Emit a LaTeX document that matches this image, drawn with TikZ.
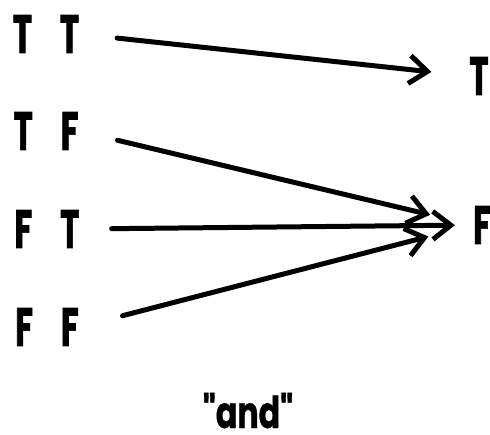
\documentclass[tikz,border=0pt]{standalone}
\usepackage{fontspec}
\setmainfont{Poppins}[FakeStretch=0.6,FakeBold=1.2]
\newfontfamily\labelfont{Poppins}[FakeStretch=0.72,FakeBold=0.8]
\usepackage{tikz}
\usetikzlibrary{arrows.meta,positioning}
\tikzset{
  truth/.style={inner sep=0pt,font=\bfseries\fontsize{54}{54}\selectfont},
  link/.style={-{Straight Barb[length=18pt,width=28pt,line width=5pt]},line width=5pt,line cap=round,draw=black},
  caption/.style={inner sep=0pt,text depth=0pt,font=\labelfont\bfseries\fontsize{44}{44}\selectfont}
}

\begin{document}
\begin{tikzpicture}[x=1pt,y=-1pt]
  \useasboundingbox (0,0) rectangle (490,434);

  \node[truth] (tt) at (46,34) {T\hspace{28pt}T};
  \node[truth] (tf) at (46,131) {T\hspace{28pt}F};
  \node[truth] (ft) at (47,229) {F\hspace{28pt}T};
  \node[truth] (ff) at (47,327) {F\hspace{28pt}F};

  \node[truth] (outT) at (479,76) {T};
  \node[truth] (outF) at (482,225) {F};

  \draw[link,shorten <=38pt,shorten >=38pt] (tt.east) -- (outT.west);
  \draw[link,shorten <=40pt,shorten >=44pt] (tf.east) -- (outF.west);
  \draw[link,shorten <=32pt,shorten >=18pt] (ft.east) -- (outF.west);
  \draw[link,shorten <=45pt,shorten >=46pt] (ff.east) -- (outF.west);

  \node[caption,anchor=base] (andlabel) at (248,428) {"and"};
\end{tikzpicture}
\end{document}
